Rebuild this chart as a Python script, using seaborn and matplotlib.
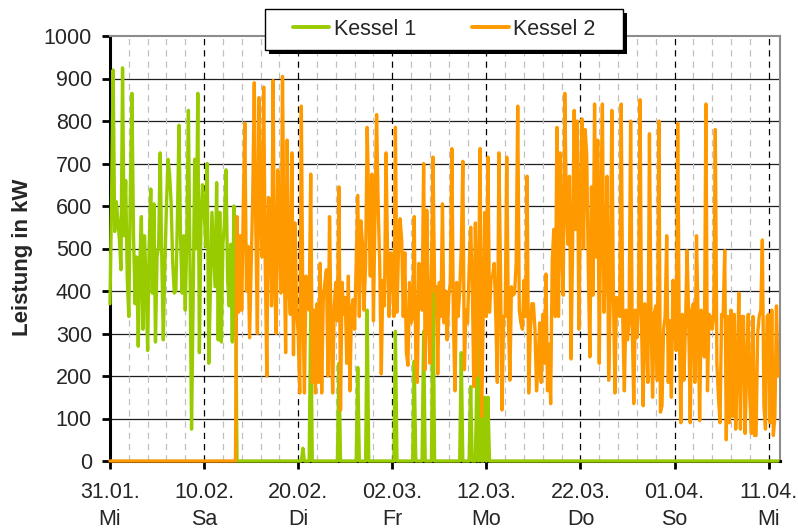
import matplotlib
matplotlib.use("Agg")
import matplotlib.pyplot as plt
from matplotlib.patches import Rectangle
from matplotlib.lines import Line2D
import pandas as pd
import seaborn as sns

# Boiler output in kW, sampled every 4 hours from 31.01.2007 00:00
# (one row per day: 00, 04, 08, 12, 16, 20 h)
kessel1 = [
    370, 620, 920, 540, 610, 570,
    520, 450, 925, 530, 660, 430,
    340, 645, 865, 530, 370, 480,
    270, 465, 575, 310, 530, 425,
    260, 510, 640, 395, 605, 280,
    480, 505, 725, 480, 285, 465,
    600, 710, 675, 605, 465, 395,
    400, 575, 790, 520, 395, 530,
    355, 530, 825, 465, 75, 370,
    710, 500, 865, 255, 560, 650,
    600, 505, 700, 230, 400, 585,
    500, 410, 655, 285, 585, 280,
    510, 560, 685, 425, 365, 510,
    280, 600, 420, 0, 0, 0,
    0, 0, 0, 0, 0, 0,
    0, 0, 0, 0, 0, 0,
    0, 0, 0, 0, 0, 0,
    0, 0, 0, 0, 0, 0,
    0, 0, 0, 0, 0, 0,
    0, 0, 0, 0, 0, 0,
    0, 0, 0, 30, 0, 0,
    0, 0, 365, 0, 0, 0,
    0, 0, 0, 0, 0, 0,
    0, 0, 0, 0, 0, 0,
    0, 0, 230, 0, 0, 0,
    0, 0, 0, 0, 0, 0,
    0, 0, 220, 0, 0, 0,
    0, 0, 355, 0, 0, 0,
    0, 0, 0, 0, 0, 0,
    0, 0, 0, 0, 0, 0,
    0, 0, 305, 0, 0, 0,
    0, 0, 0, 0, 0, 0,
    0, 0, 235, 0, 0, 0,
    0, 0, 305, 0, 0, 0,
    0, 0, 400, 0, 0, 0,
    0, 0, 0, 0, 0, 0,
    0, 0, 0, 0, 0, 0,
    0, 0, 255, 0, 0, 0,
    0, 0, 175, 0, 0, 0,
    215, 0, 330, 0, 0, 150,
    0, 150, 0, 0, 0, 0,
    0, 0, 0, 0, 0, 0,
    0, 0, 0, 0, 0, 0,
    0, 0, 0, 0, 0, 0,
    0, 0, 0, 0, 0, 0,
    0, 0, 0, 0, 0, 0,
    0, 0, 0, 0, 0, 0,
    0, 0, 0, 0, 0, 0,
    0, 0, 0, 0, 0, 0,
    0, 0, 0, 0, 0, 0,
    0, 0, 0, 0, 0, 0,
    0, 0, 0, 0, 0, 0,
    0, 0, 0, 0, 0, 0,
    0, 0, 0, 0, 0, 0,
    0, 0, 0, 0, 0, 0,
    0, 0, 0, 0, 0, 0,
    0, 0, 0, 0, 0, 0,
    0, 0, 0, 0, 0, 0,
    0, 0, 0, 0, 0, 0,
    0, 0, 0, 0, 0, 0,
    0, 0, 0, 0, 0, 0,
    0, 0, 0, 0, 0, 0,
    0, 0, 0, 0, 0, 0,
    0, 0, 0, 0, 0, 0,
    0, 0, 0, 0, 0, 0,
    0, 0, 0, 0, 0, 0,
    0, 0, 0, 0, 0, 0,
    0, 0, 0, 0, 0, 0,
    0, 0, 0, 0, 0, 0,
    0, 0, 0, 0, 0, 0,
    0, 0, 0, 0, 0, 0,
    0,
]

kessel2 = [
    0, 0, 0, 0, 0, 0,
    0, 0, 0, 0, 0, 0,
    0, 0, 0, 0, 0, 0,
    0, 0, 0, 0, 0, 0,
    0, 0, 0, 0, 0, 0,
    0, 0, 0, 0, 0, 0,
    0, 0, 0, 0, 0, 0,
    0, 0, 0, 0, 0, 0,
    0, 0, 0, 0, 0, 0,
    0, 0, 0, 0, 0, 0,
    0, 0, 0, 0, 0, 0,
    0, 0, 0, 0, 0, 0,
    0, 0, 0, 0, 0, 0,
    0, 0, 0, 575, 350, 530,
    355, 600, 795, 400, 505, 290,
    450, 620, 890, 545, 300, 855,
    590, 480, 880, 465, 200, 620,
    615, 365, 895, 420, 300, 685,
    550, 395, 905, 505, 255, 755,
    410, 345, 725, 250, 560, 355,
    300, 160, 835, 355, 160, 435,
    400, 355, 675, 185, 355, 160,
    370, 185, 465, 160, 380, 420,
    450, 200, 575, 300, 160, 365,
    420, 330, 645, 120, 420, 345,
    385, 230, 435, 165, 355, 380,
    310, 465, 625, 340, 565, 510,
    355, 465, 785, 600, 435, 675,
    330, 590, 815, 600, 465, 205,
    425, 365, 725, 490, 340, 490,
    480, 340, 785, 350, 500, 570,
    520, 340, 490, 255, 225, 420,
    325, 340, 575, 240, 185, 465,
    400, 355, 700, 215, 590, 355,
    230, 450, 715, 400, 410, 205,
    420, 340, 605, 325, 400, 285,
    385, 420, 735, 325, 165, 420,
    340, 400, 500, 705, 215, 355,
    325, 450, 550, 420, 175, 560,
    200, 400, 735, 105, 340, 585,
    340, 715, 350, 430, 435, 465,
    340, 185, 725, 450, 120, 340,
    340, 715, 340, 190, 410, 390,
    395, 465, 835, 355, 325, 310,
    425, 340, 670, 160, 300, 370,
    370, 310, 165, 230, 325, 185,
    345, 230, 440, 165, 275, 135,
    470, 545, 340, 785, 340, 725,
    505, 390, 865, 600, 510, 670,
    240, 505, 825, 545, 800, 310,
    600, 805, 500, 780, 720, 455,
    245, 645, 390, 840, 480, 755,
    230, 600, 840, 350, 465, 670,
    190, 385, 825, 400, 160, 385,
    360, 340, 840, 330, 165, 355,
    285, 330, 800, 315, 135, 355,
    290, 360, 850, 310, 130, 370,
    310, 185, 770, 340, 150, 345,
    365, 190, 800, 115, 130, 310,
    340, 530, 185, 330, 150, 425,
    330, 260, 795, 310, 90, 345,
    190, 325, 495, 340, 90, 355,
    370, 185, 530, 340, 95, 355,
    340, 245, 840, 165, 345, 340,
    310, 340, 780, 230, 150, 90,
    345, 340, 495, 50, 340, 90,
    355, 105, 345, 75, 220, 395,
    75, 340, 340, 65, 215, 345,
    150, 65, 340, 60, 60, 300,
    340, 355, 520, 130, 75, 340,
    345, 90, 355, 60, 105, 365,
    200,
]

series_names = ["Kessel 1", "Kessel 2"]
series_colors = ["#99CC00", "#FF9900"]

tick_dates = ["2007-01-31", "2007-02-10", "2007-02-20", "2007-03-02",
              "2007-03-12", "2007-03-22", "2007-04-01", "2007-04-11"]
tick_labels = ["31.01.\nMi", "10.02.\nSa", "20.02.\nDi", "02.03.\nFr",
               "12.03.\nMo", "22.03.\nDo", "01.04.\nSo", "11.04.\nMi"]
y_ticks = [0, 100, 200, 300, 400, 500, 600, 700, 800, 900, 1000]

# ---------------------------------------------------------------------------
sns.set_style("white")
plt.rcParams["font.family"] = ["Liberation Sans", "DejaVu Sans"]
FS = 15.5

times = pd.date_range("2007-01-31", periods=len(kessel1), freq="4h")
df = pd.DataFrame({"Zeit": times, "Kessel 1": kessel1, "Kessel 2": kessel2})
long = df.melt(id_vars="Zeit", var_name="Kessel", value_name="Leistung")

W, H = 798, 530
fig = plt.figure(figsize=(W / 100, H / 100), dpi=100)
fig.patch.set_facecolor("white")
ax = fig.add_axes([110 / W, 1 - 461 / H, 670 / W, 425 / H])

sns.lineplot(data=long, x="Zeit", y="Leistung", hue="Kessel",
             hue_order=series_names, palette=series_colors,
             estimator=None, sort=False, linewidth=2.4, legend=False, ax=ax)
for ln in ax.lines:
    ln.set_clip_on(False)
    ln.set_zorder(3)
    ln.set_solid_joinstyle("round")

x_start = pd.Timestamp("2007-01-31")
x_end = pd.Timestamp("2007-04-12 05:00")
ax.set_xlim(x_start, x_end)
ax.set_ylim(0, 1000)

# horizontal grid lines
for v in y_ticks[1:-1]:
    ax.axhline(v, color="#1e1e1e", lw=0.9, zorder=1)

# vertical dashed lines: light every 2 days, dark every 10 days
major = pd.to_datetime(tick_dates)
minor = pd.date_range("2007-02-02", "2007-04-12", freq="2D")
for d in minor:
    if d in major:
        continue
    ax.axvline(d, color="#c0c0c0", lw=0.9, ls=(0, (5, 4)), zorder=1)
for d in major[1:]:
    ax.axvline(d, color="black", lw=0.9, ls=(0, (5, 4)), zorder=1)

ax.set_xticks(major)
ax.set_xticklabels(tick_labels)
ax.set_yticks(y_ticks)
ax.set_yticklabels([str(v) for v in y_ticks])
ax.tick_params(axis="x", direction="out", length=6, width=2, color="black",
               labelsize=FS, pad=9, bottom=True)
ax.tick_params(axis="y", direction="out", length=6, width=2, color="black",
               labelsize=FS, pad=7, left=True)
for t in ax.get_xticklabels():
    t.set_linespacing(1.4)

ax.set_xlabel("")
ax.set_ylabel("Leistung in kW", fontsize=FS + 0.5, fontweight="bold")
ax.yaxis.set_label_coords(-0.115, 0.48)

for side in ("left", "bottom"):
    ax.spines[side].set_color("black")
    ax.spines[side].set_linewidth(2.2)
for side in ("top", "right"):
    ax.spines[side].set_color("#8c8c8c")
    ax.spines[side].set_linewidth(1.5)

# legend with black drop shadow
bx0, by0, bw, bh = 265, 9, 358, 41
fig.patches.append(Rectangle(((bx0 + 4) / W, 1 - (by0 + bh + 4) / H), bw / W, bh / H,
                             transform=fig.transFigure, facecolor="black",
                             edgecolor="none", zorder=3))
fig.patches.append(Rectangle((bx0 / W, 1 - (by0 + bh) / H), bw / W, bh / H,
                             transform=fig.transFigure, facecolor="white",
                             edgecolor="black", lw=1.0, zorder=4))
handles = [Line2D([], [], color=c, lw=2.8) for c in series_colors]
fig.legend(handles, series_names, loc="center",
           bbox_to_anchor=((bx0 + bw / 2) / W, 1 - (by0 + bh / 2) / H),
           ncol=2, frameon=False, fontsize=FS, handlelength=1.7,
           handletextpad=0.2, columnspacing=2.6)

fig.savefig("out.png", dpi=100)
